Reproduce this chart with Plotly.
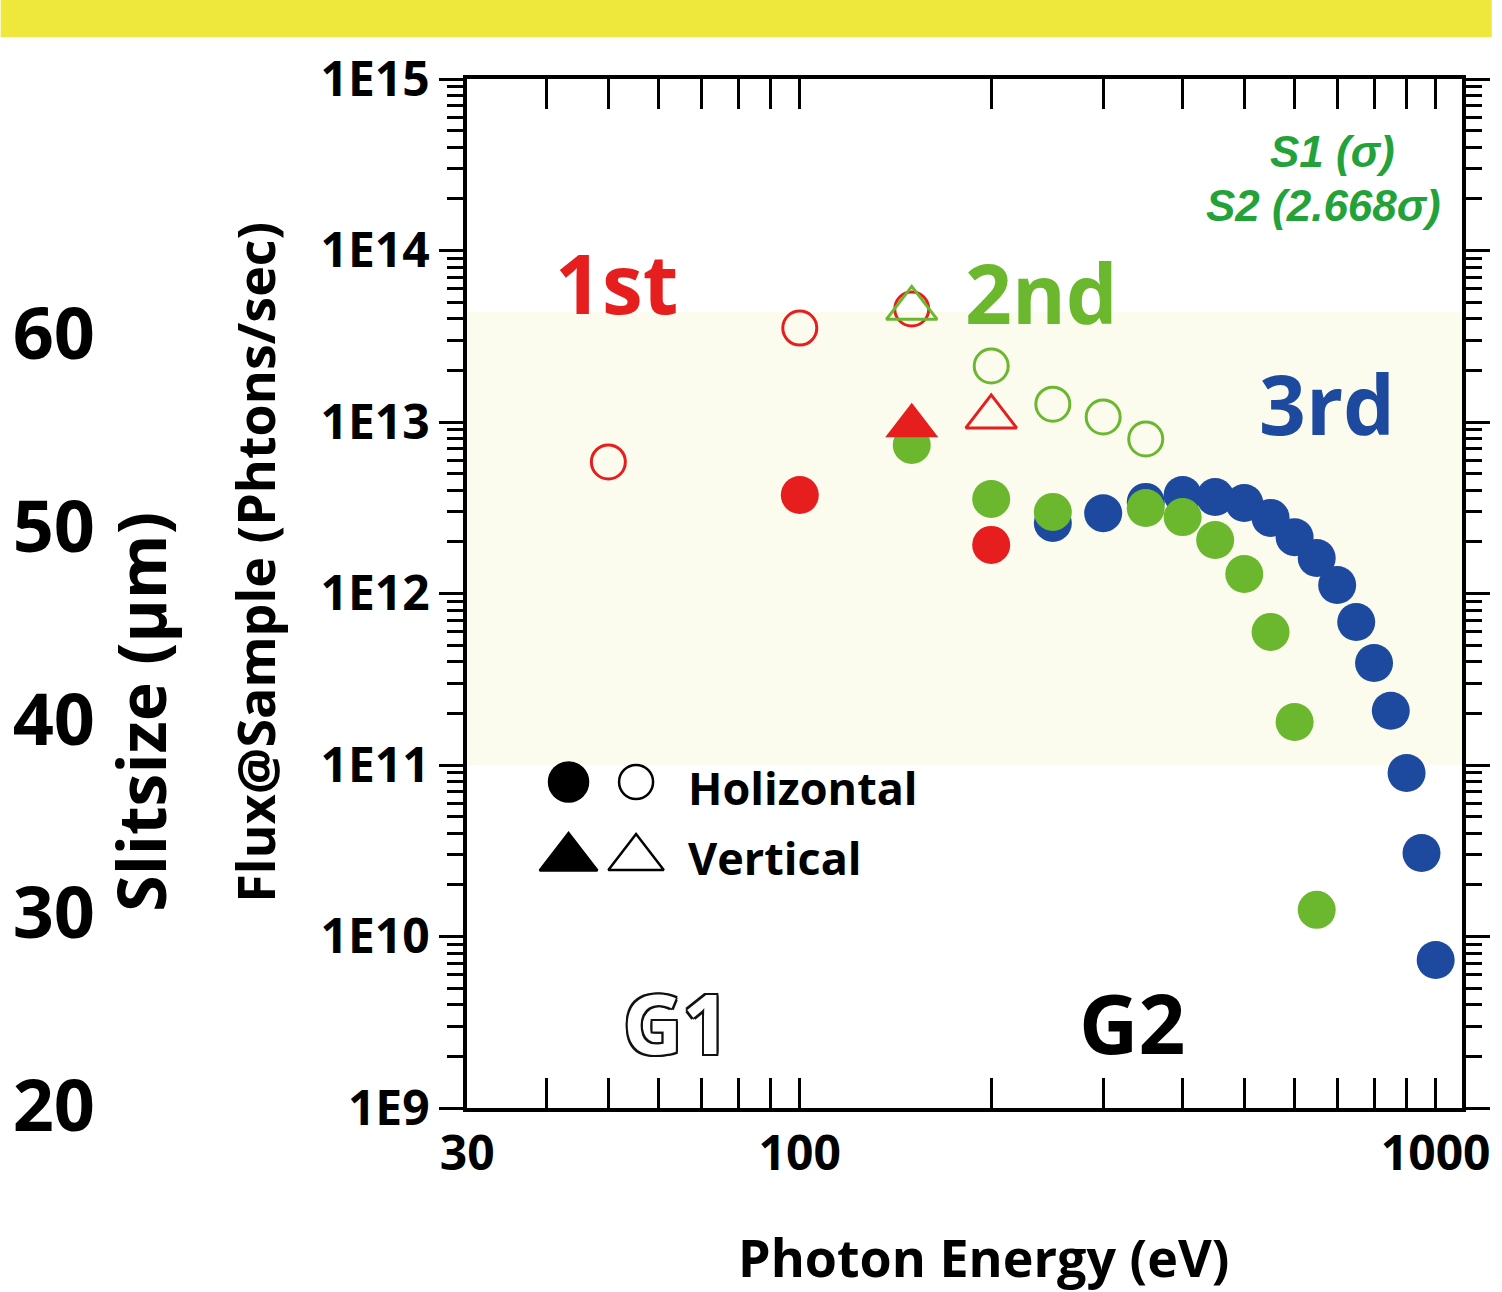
import plotly.graph_objects as go

# ---- data (photon energy in eV, flux in photons/sec) ----
# 1st harmonic (red)
e1_h_s1 = [100, 200]
f1_h_s1 = [3.75e12, 1.92e12]
e1_h_s2 = [50, 100, 150]
f1_h_s2 = [5.85e12, 3.53e13, 4.56e13]
e1_v_s1 = [150]
f1_v_s1 = [9.5e12]
e1_v_s2 = [200]
f1_v_s2 = [1.07e13]

# 2nd harmonic (green)
e2_h_s1 = [150, 200, 250, 350, 400, 450, 500, 550, 600, 650]
f2_h_s1 = [7.35e12, 3.56e12, 2.99e12, 3.15e12, 2.79e12, 2.05e12, 1.30e12, 5.97e11, 1.78e11, 1.43e10]
e2_h_s2 = [200, 250, 300, 350]
f2_h_s2 = [2.12e13, 1.27e13, 1.07e13, 7.96e12]
e2_v_s2 = [150]
f2_v_s2 = [4.6e13]

# 3rd harmonic (blue)
e3_h_s1 = [250, 300, 350, 400, 450, 500, 550, 600, 650, 700, 750, 800, 850, 900, 950, 1000]
f3_h_s1 = [2.58e12, 2.94e12, 3.42e12, 3.75e12, 3.65e12, 3.37e12, 2.76e12, 2.13e12, 1.61e12,
           1.12e12, 6.82e11, 3.93e11, 2.07e11, 8.98e10, 3.07e10, 7.3e9]

# axis ticks
x_tickvals = [30, 100, 1000]
x_ticktext = ["30", "100", "1000"]
y_tickvals = [1e9, 1e10, 1e11, 1e12, 1e13, 1e14, 1e15]
y_ticktext = ["1E9", "1E10", "1E11", "1E12", "1E13", "1E14", "1E15"]
slit_tickvals = [20, 30, 40, 50, 60]

# highlighted flux band
band_low, band_high = 1e11, 4.4e13

RED = "#E61F1E"
GREEN = "#6BB82F"
BLUE = "#1D4A9E"
LABEL_GREEN = "#24A23A"
FONT = "Open Sans"

fig = go.Figure()


def dots(x, y, color, symbol="circle", filled=True, size=38):
    if filled:
        marker = dict(symbol=symbol, size=size, color=color, opacity=1, line=dict(width=0))
    else:
        marker = dict(symbol=symbol + "-open", size=size - 4, color=color, opacity=1,
                      line=dict(width=3, color=color))
    return go.Scatter(x=x, y=y, mode="markers", marker=marker,
                      showlegend=False, hoverinfo="x+y")


# draw order: 3rd, 2nd filled, 1st, then open symbols on top
fig.add_trace(dots(e3_h_s1, f3_h_s1, BLUE))
fig.add_trace(dots(e2_h_s1, f2_h_s1, GREEN))
fig.add_trace(dots(e1_h_s1, f1_h_s1, RED))
fig.add_trace(dots(e1_v_s1, f1_v_s1, RED, symbol="triangle-up", size=46))
fig.add_trace(dots(e1_h_s2, f1_h_s2, RED, filled=False))
fig.add_trace(dots(e1_v_s2, f1_v_s2, RED, symbol="triangle-up", filled=False, size=48))
fig.add_trace(dots(e2_h_s2, f2_h_s2, GREEN, filled=False))
fig.add_trace(dots(e2_v_s2, f2_v_s2, GREEN, symbol="triangle-up", filled=False, size=48))

# symbol key (on a hidden 0..1 overlay axis)
key_x = [0.1018, 0.1697]
fig.add_trace(go.Scatter(x=key_x, y=[0.3168, 0.3168], xaxis="x2", yaxis="y2", mode="markers",
                         marker=dict(symbol=["circle", "circle-open"], size=[39, 34],
                                     color="#000000", opacity=1,
                                     line=dict(width=2.5, color="#000000")),
                         showlegend=False, hoverinfo="skip"))
fig.add_trace(go.Scatter(x=key_x, y=[0.243, 0.243], xaxis="x2", yaxis="y2", mode="markers",
                         marker=dict(symbol=["triangle-up", "triangle-up-open"], size=[50, 48],
                                     color="#000000", opacity=1,
                                     line=dict(width=2.5, color="#000000")),
                         showlegend=False, hoverinfo="skip"))

# empty trace to activate the slit-size axis
fig.add_trace(go.Scatter(x=[None], y=[None], yaxis="y3", showlegend=False))

W, H = 1502, 1292
ML, MR, MT, MB = 95, 30, 79, 184
PW = W - ML - MR
PH = H - MT - MB
x_dom0 = (470 - ML) / PW


def px(xp):
    return (xp - ML) / PW


def py(yp):
    return (H - MB - yp) / PH


tick_font = dict(family=FONT, size=48, color="black", weight="bold")
axis_common = dict(showgrid=False, zeroline=False, showline=True, linecolor="black",
                   linewidth=4, mirror="allticks", tickcolor="black", tickwidth=3)

fig.update_layout(
    width=W, height=H, autosize=False,
    margin=dict(l=ML, r=MR, t=MT, b=MB),
    paper_bgcolor="white", plot_bgcolor="white",
    font=dict(family=FONT, color="black"),
    xaxis=dict(type="log", range=[1.4771, 3.0414], domain=[x_dom0, 1],
               tickvals=x_tickvals, ticktext=x_ticktext, ticks="inside", ticklen=30,
               tickfont=dict(family=FONT, size=48, color="black", weight="bold"),
               minor=dict(dtick="D1", ticks="inside", ticklen=20, tickwidth=3, tickcolor="black"),
               **axis_common),
    yaxis=dict(type="log", range=[9, 15], tickvals=y_tickvals, ticktext=y_ticktext,
               ticks="outside", ticklen=24, tickfont=tick_font,
               minor=dict(dtick="D1", ticks="outside", ticklen=16, tickwidth=3, tickcolor="black"),
               **axis_common),
    xaxis2=dict(overlaying="x", domain=[x_dom0, 1], range=[0, 1], visible=False),
    yaxis2=dict(overlaying="y", anchor="x2", range=[0, 1], visible=False),
    yaxis3=dict(overlaying="y", anchor="free", position=0, side="left",
                range=[19.9, 73.2], tickvals=slit_tickvals, showline=False, ticks="",
                showgrid=False, zeroline=False,
                tickfont=dict(family=FONT, size=72, color="black", weight="bold")),
)

# highlighted flux band and header strip
fig.add_shape(type="rect", xref="x domain", yref="y", x0=0, x1=1, y0=band_low, y1=band_high,
              fillcolor="#FBFBEE", line=dict(width=0), layer="below")
fig.add_shape(type="rect", xref="paper", yref="paper", x0=-ML / PW, x1=(W - ML) / PW,
              y0=py(37), y1=py(0), fillcolor="#EEE83C", line=dict(width=0), layer="below")

ann = []


def label(text, xp, yp, size, color, italic=False, xanchor="center", angle=0, font=FONT, **kw):
    f = dict(family=font, size=size, color=color, weight="bold")
    if italic:
        f["style"] = "italic"
    f.update(kw)
    ann.append(dict(text=text, x=px(xp), y=py(yp), xref="paper", yref="paper",
                    xanchor=xanchor, yanchor="middle", showarrow=False, font=f, textangle=angle))


label("1st", 620, 282, 82, RED)
label("2nd", 1048, 292, 82, GREEN)
label("3rd", 1336, 403, 82, BLUE)
label("S1 (σ)", 1342, 151, 44, LABEL_GREEN, italic=True, font="Liberation Sans")
label("S2 (2.668σ)", 1332, 205, 44, LABEL_GREEN, italic=True, font="Liberation Sans")
label("Holizontal", 690, 788, 45, "black", xanchor="left")
label("Vertical", 690, 857, 45, "black", xanchor="left")
label("G2", 1140, 1022, 82, "black")
label("G1", 680, 1022, 82, "white",
      shadow="-2px -2px 0 #111, 2px -2px 0 #111, -2px 2px 0 #111, 2px 2px 0 #111, "
             "0 2px 0 #111, 0 -2px 0 #111, 2px 0 0 #111, -2px 0 0 #111")
# axis titles
label("Photon Energy (eV)", 990, 1256, 52, "black")
label("Flux@Sample (Phtons/sec)", 255, 562, 52, "black", angle=-90)
label("Slitsize (\u03bcm)", 140, 712, 66, "black", angle=-90)

fig.update_layout(annotations=ann)

fig.write_html("out.html", config={"responsive": False})
